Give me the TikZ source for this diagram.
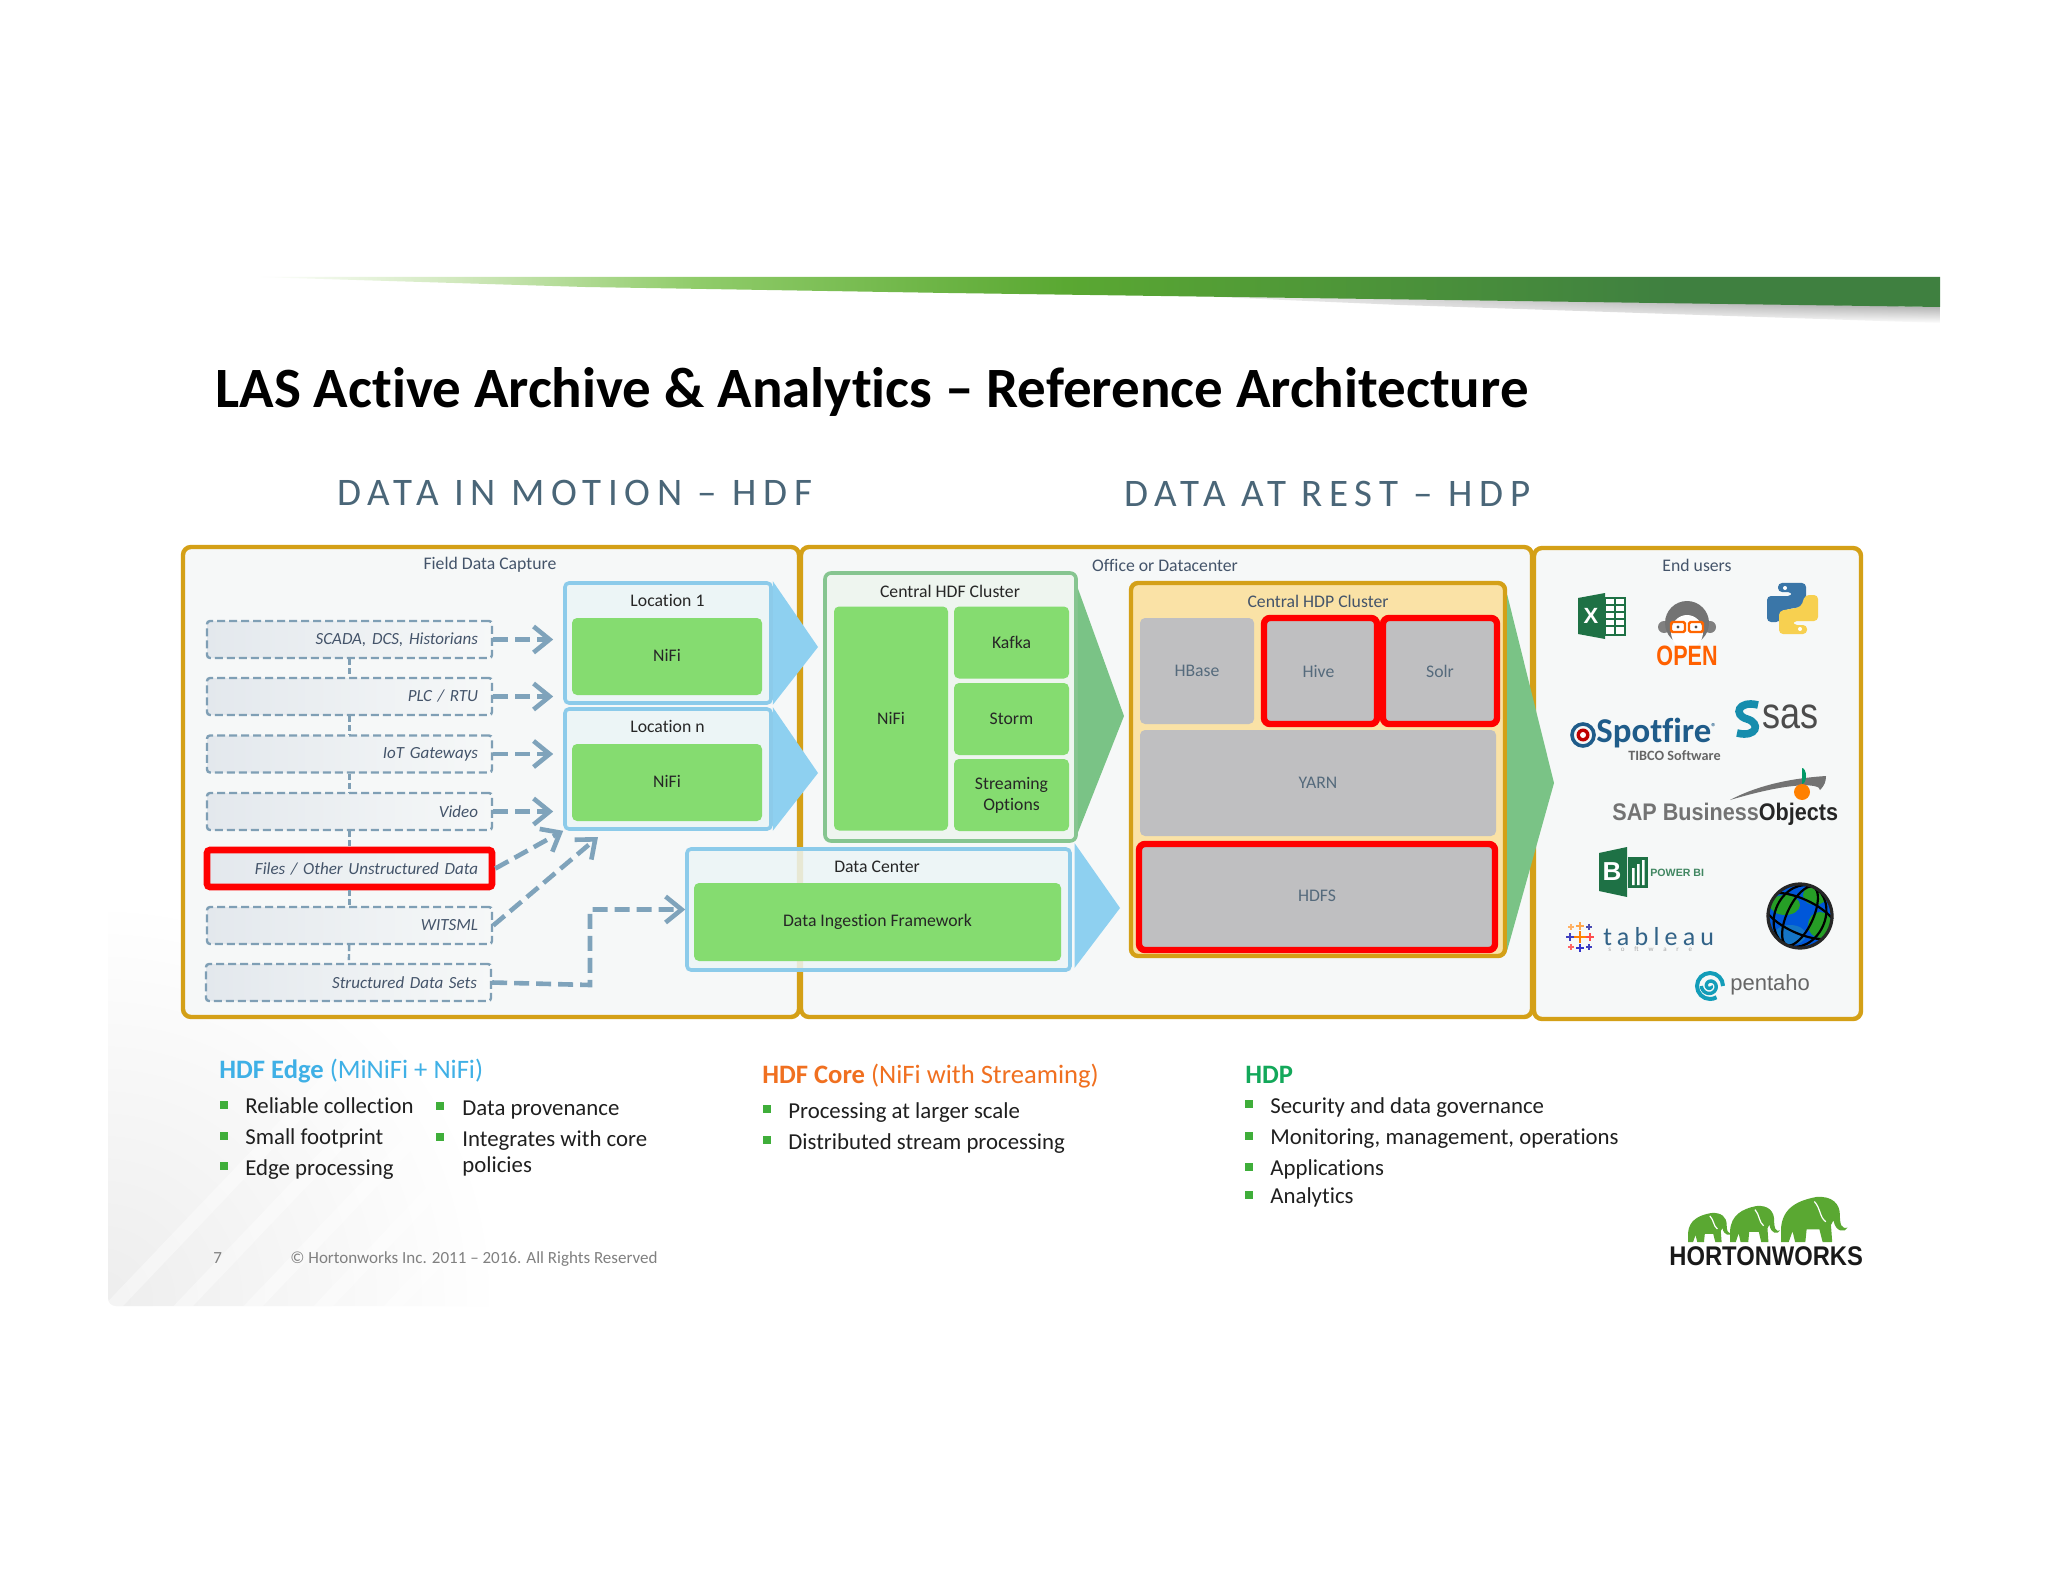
\documentclass[tikz,border=0pt]{standalone}
\usepackage{fontspec}
\setmainfont[Ligatures={TeX,NoCommon}]{Carlito}
\newfontfamily\spacedfont[LetterSpace=17]{Carlito}
\newfontfamily\logofont{Liberation Sans}
\newfontfamily\tabfont[LetterSpace=20]{Carlito}
\newfontfamily\tabsubfont[LetterSpace=140]{Carlito}
\usetikzlibrary{arrows.meta, fadings}

\definecolor{gold}{HTML}{D4A017}
\definecolor{panel}{HTML}{F6F8F8}
\definecolor{slate}{HTML}{44546A}
\definecolor{head}{HTML}{4A6678}
\definecolor{blueline}{HTML}{8CCBEA}
\definecolor{bluefill}{HTML}{ECF5F6}
\definecolor{bluechev}{HTML}{8ED0F0}
\definecolor{nifi}{HTML}{85DC70}
\definecolor{hdfline}{HTML}{86C590}
\definecolor{hdffill}{HTML}{EEF5EF}
\definecolor{greenchev}{HTML}{7AC386}
\definecolor{hdpfill}{HTML}{FAE2A6}
\definecolor{svc}{HTML}{BFBFC1}
\definecolor{svctext}{HTML}{556A7C}
\definecolor{dashc}{HTML}{7F9FB5}
\definecolor{srcleft}{HTML}{E3E8ED}
\definecolor{linkc}{HTML}{7FA3BB}
\definecolor{bulgreen}{HTML}{3FAE3A}
\definecolor{edgeblue}{HTML}{3FB0E6}
\definecolor{coreorange}{HTML}{F07020}
\definecolor{hdpgreen}{HTML}{13A85A}
\definecolor{xlgreen}{HTML}{1E7145}
\definecolor{pygold}{HTML}{F7D050}
\definecolor{pyblue}{HTML}{3A76A8}
\definecolor{spotblue}{HTML}{1F5C8A}
\definecolor{elephant}{HTML}{5AA832}
\definecolor{barzero}{HTML}{D0E8BC}
\definecolor{barone}{HTML}{90CC6A}
\definecolor{bartwo}{HTML}{5AA832}
\definecolor{barthree}{HTML}{3F8040}

\pgfdeclarehorizontalshading{barfill}{100bp}{
  color(0bp)=(white); color(25bp)=(white);
  color(31bp)=(barzero);
  color(38bp)=(barone);
  color(49bp)=(bartwo);
  color(67bp)=(barthree);
  color(100bp)=(barthree)}

\newcommand\fsz[1]{\fontsize{#1}{#1}\selectfont}
% name, bullet x, bullet y, text x, baseline y, text
\newcommand\bitem[6]{
  \node [bul] (#1b) at (#2,#3) {};
  \node [itm] (#1) at (#4,#5) {#6};
}
% x, y, width, height of one elephant, y down
\newcommand\elephantshape[4]{
  \begin{scope}[shift={(#1,#2)}, xscale=#3/100, yscale=#4/100]
    \fill [elephant] (0,70) .. controls (2,25) and (25,8) .. (55,0)
      .. controls (80,-3) and (92,15) .. (92,40)
      .. controls (92,60) and (94,72) .. (104,68)
      .. controls (100,80) and (85,78) .. (82,52)
      -- (78,62) -- (80,100) -- (65,100) -- (60,72) -- (40,72)
      -- (38,100) -- (22,100) -- (18,76) -- (12,100) -- (0,100) -- cycle;
    \draw [white, line width=0.6pt] (52,10) .. controls (62,25) and (60,45) .. (70,55);
  \end{scope}
}

\begin{document}
\begin{tikzpicture}[ x=0.5pt, y=-0.5pt
                   , outer/.style={draw=gold, line width=2.2pt, rounded corners=4pt, fill=panel}
                   , bl/.style={draw=blueline, line width=1.8pt, rounded corners=2pt, fill=bluefill}
                   , inner/.style={fill=nifi, rounded corners=2.5pt, inner sep=0pt, text=black!85, font=\fsz{8.85}, align=center}
                   , svcbox/.style={fill=svc, rounded corners=2.5pt, inner sep=0pt, text=svctext, font=\fsz{8.85}}
                   , redbox/.style={draw=red, line width=3.2pt, fill=svc, rounded corners=3pt, inner sep=0pt, text=svctext, font=\fsz{8.85}}
                   , lab/.style={inner sep=0pt, text=slate, font=\fsz{8.85}}
                   , ttl/.style={inner sep=0pt, text=black!85, font=\fsz{8.85}}
                   , src/.style={draw=dashc, line width=1.2pt, dash pattern=on 4pt off 2pt, rounded corners=1.5pt,
                                 left color=srcleft, right color=panel, minimum height=18.5pt,
                                 text width=128.5pt, inner xsep=7pt, inner ysep=0pt, align=right, text=slate,
                                 font=\itshape\fsz{8.5}}
                   , srcred/.style={src, draw=red, solid, line width=3.3pt}
                   , dot/.style={draw=dashc, line width=1.2pt, dash pattern=on 3pt off 1.5pt}
                   , link/.style={draw=linkc, line width=2.3pt, dash pattern=on 7.5pt off 3.5pt,
                                  -{Straight Barb[length=8pt,width=13pt,line width=2.3pt]}}
                   , bul/.style={fill=bulgreen, inner sep=0pt, minimum size=3.6pt}
                   , itm/.style={inner sep=0pt, anchor=base west, text=black!88, font=\fsz{11.4}}
                   , hd/.style={inner sep=0pt, anchor=base west, font=\fsz{13.3}}
                   , foot/.style={inner sep=0pt, anchor=base west, text=black!50, font=\fsz{8.5}}
                   , logo/.style={inner sep=0pt, anchor=base west}
                   ]
  \useasboundingbox (0,0) rectangle (2048,1582);
  \fill [white] (0,0) rectangle (2048,1582);

  % --- slide background -------------------------------------------------------
  \begin{scope}
    \clip [rounded corners=4pt] (108,900) rectangle (900,1306);
    \shade [inner color=black!7, outer color=white] (-300,900) rectangle (500,1700);
    \foreach \d in {0,70,...,420}
      \draw [white, line width=7pt, opacity=0.4] (100+\d,1320) -- (500+\d,900);
  \end{scope}

  % --- top bar ----------------------------------------------------------------
  \shade [left color=white, right color=black!55, path fading=south]
    (1100,292) -- (1940,307) -- (1940,323) -- (1400,305) -- cycle;
  \shade [shading=barfill] (258,277) -- (1940,277) -- (1940,307) -- (948,293) -- (585,287) -- cycle;

  % --- headings ---------------------------------------------------------------
  \node [inner sep=0pt, anchor=base west, font=\bfseries\fsz{28.5}] (title) at (215,408)
    {LAS Active Archive \& Analytics – Reference Architecture};
  \node [inner sep=0pt, anchor=base west, text=head, font=\spacedfont\fsz{19.5}] (motion) at (337,506)
    {DATA IN MOTION – HDF};
  \node [inner sep=0pt, anchor=base west, text=head, font=\spacedfont\fsz{19.5}] (rest) at (1124,507)
    {DATA AT REST – HDP};

  % --- outer panels -----------------------------------------------------------
  \draw [outer] (183,547) rectangle (799,1017);
  \draw [outer] (801,547) rectangle (1532,1017);
  \draw [outer] (1534,548) rectangle (1861,1019);
  \node [lab] (field) at (490,565) {Field Data Capture};
  \node [lab] (office) at (1165,565) {Office or Datacenter};
  \node [lab] (users) at (1697,565) {End users};

  % --- sources ----------------------------------------------------------------
  \node [src] (s1) at (349.5,639.5) {SCADA, DCS, Historians};
  \node [src] (s2) at (349.5,696.5) {PLC / RTU};
  \node [src] (s3) at (349.5,754) {IoT Gateways};
  \node [src] (s4) at (349.5,811.5) {Video};
  \node [srcred] (s5) at (349.5,868.5) {Files / Other Unstructured Data};
  \node [src] (s6) at (349.5,925.5) {WITSML};
  \node [src] (s7) at (348.5,982.5) {Structured Data Sets};
  \draw [dot] (s1) -- (s2);
  \draw [dot] (s2) -- (s3);
  \draw [dot] (s3) -- (s4);
  \draw [dot] (s4) -- (s5);
  \draw [dot] (s5) -- (s6);
  \draw [dot] (s6) -- (s7);

  % --- locations --------------------------------------------------------------
  \node [bl, minimum width=103pt, minimum height=60pt, inner sep=0pt] (loc1) at (668,643) {};
  \node [bl, minimum width=103pt, minimum height=60pt, inner sep=0pt] (locn) at (668,769) {};
  \fill [bluechev] (loc1.north east) -- (818,647) -- (loc1.south east) -- cycle;
  \fill [bluechev] (locn.north east) -- (818,773) -- (locn.south east) -- cycle;
  \node [ttl] (loc1t) at (667.5,600.5) {Location 1};
  \node [ttl] (locnt) at (667.5,726.5) {Location n};
  \node [inner, minimum width=95pt, minimum height=38.5pt] (nifi1) at (667,656.5) {\raisebox{0.8pt}{NiFi}};
  \node [inner, minimum width=95pt, minimum height=38.5pt] (nifi2) at (667,782.5) {\raisebox{0.8pt}{NiFi}};

  % --- data center ------------------------------------------------------------
  \fill [bluechev] (1074.5,843) -- (1120,908) -- (1074.5,968) -- cycle;
  \node [bl, fill opacity=0.85, minimum width=191.5pt, minimum height=60.5pt, inner sep=0pt] (dc) at (878.5,909.5) {};
  \node [ttl] (dct) at (877,867) {Data Center};
  \node [inner, minimum width=183.5pt, minimum height=39pt] (dif) at (877.5,922) {Data Ingestion Framework};

  % --- central HDF cluster ----------------------------------------------------
  \node [draw=hdfline, line width=1.8pt, rounded corners=3pt, fill=hdffill, minimum width=125.5pt, minimum height=134pt, inner sep=0pt] (hdf) at (950.5,707) {};
  \fill [greenchev] ([yshift=-8.5pt]hdf.north east) -- (1124,716) -- ([yshift=5pt]hdf.south east) -- cycle;
  \node [ttl] (hdft) at (950,591.5) {Central HDF Cluster};
  \node [inner, minimum width=57pt, minimum height=112pt] (hnifi) at (891,718.5) {NiFi};
  \node [inner, minimum width=57.5pt, minimum height=36pt] (kafka) at (1011.5,642.5) {Kafka};
  \node [inner, minimum width=57.5pt, minimum height=36pt] (storm) at (1011.5,719) {Storm};
  \node [inner, minimum width=57.5pt, minimum height=36pt, font=\fontsize{8.85}{10.5}\selectfont] (stream) at (1011.5,795) {Streaming\\Options};

  % --- central HDP cluster ----------------------------------------------------
  \node [draw=gold, line width=2.2pt, rounded corners=3.5pt, fill=hdpfill, minimum width=187pt, minimum height=186.5pt, inner sep=0pt] (hdp) at (1318,769.5) {};
  \fill [greenchev] ([yshift=-7pt]hdp.north east) -- (1554,783) -- ([yshift=4pt]hdp.south east) -- cycle;
  \node [lab] (hdpt) at (1318,601.5) {Central HDP Cluster};
  \node [svcbox, minimum width=57pt, minimum height=53pt] (hbase) at (1197,671) {HBase};
  \node [redbox, minimum width=56.5pt, minimum height=53pt] (hive) at (1320.5,671) {\kern-2pt Hive};
  \node [redbox, minimum width=57pt, minimum height=53pt] (solr) at (1440,671) {Solr};
  \node [svcbox, minimum width=178pt, minimum height=53pt] (yarn) at (1318,783) {YARN};
  \node [redbox, minimum width=178pt, minimum height=53pt] (hdfs) at (1317,897) {\raisebox{1.5pt}{HDFS}};

  % --- arrows -----------------------------------------------------------------
  \coordinate (wend) at (598,837);
  \coordinate (elbow) at (590,985);
  \draw [link, shorten >=5pt] (s1.east) -- (s1.east -| loc1.west);
  \draw [link, shorten >=5pt] (s2.east) -- (s2.east -| loc1.west);
  \draw [link, shorten >=5pt] (s3.east) -- (s3.east -| locn.west);
  \draw [link, shorten >=5pt] (s4.east) -- (s4.east -| locn.west);
  \draw [link] (s5.east) -- (locn.south west);
  \draw [link] (s6.east) -- (wend);
  \draw [link] (s7.east) -- (elbow) |- (dc.west);

  % --- bottom text ------------------------------------------------------------
  \node [hd] (edge) at (219,1078) {\textcolor{edgeblue}{\textbf{HDF Edge} (MiNiFi + NiFi)}};
  \bitem{e1}{224}{1105}{245}{1113}{Reliable collection}
  \bitem{e2}{224}{1136}{245}{1144}{Small footprint}
  \bitem{e3}{224}{1166}{245}{1175}{Edge processing}
  \bitem{e4}{440}{1106}{462}{1115}{Data provenance}
  \bitem{e5}{440}{1137}{462}{1146}{Integrates with core}
  \node [itm] (e6) at (462,1172) {policies};

  \node [hd] (core) at (762,1083) {\textcolor{coreorange}{\textbf{HDF Core} (NiFi with Streaming)}};
  \bitem{c1}{767}{1109}{788}{1118}{Processing at larger scale}
  \bitem{c2}{767}{1140}{788}{1149}{Distributed stream processing}

  \node [hd] (hdpl) at (1245,1083) {\textcolor{hdpgreen}{\textbf{HDP}}};
  \bitem{p1}{1249}{1104}{1270}{1113}{Security and data governance}
  \bitem{p2}{1249}{1136}{1270}{1144}{Monitoring, management, operations}
  \bitem{p3}{1249}{1167}{1270}{1175}{Applications}
  \bitem{p4}{1249}{1195}{1270}{1203}{Analytics}

  \node [foot] (pageno) at (213,1263) {7};
  \node [foot] (copy) at (290,1263) {© Hortonworks Inc. 2011 – 2016. All Rights Reserved};

  % --- hortonworks logo -------------------------------------------------------
  \elephantshape{1688}{1213}{42}{29}
  \elephantshape{1730}{1206}{48}{36}
  \elephantshape{1781}{1197}{64}{45}
  \node [inner sep=0pt, anchor=base west, transform shape, xscale=0.88, text=black!90, font=\logofont\bfseries\fsz{13.5}] (hw) at (1669,1265) {HORTONWORKS};

  % --- end user logos ---------------------------------------------------------
  % excel
  \fill [xlgreen] (1578,598) -- (1605,593) -- (1605,639) -- (1578,634) -- cycle;
  \draw [xlgreen, line width=0.8pt, fill=white] (1605,598) rectangle (1625,635);
  \foreach \y in {605,612,619,626}
    \draw [xlgreen, line width=1pt] (1605,\y) -- (1625,\y);
  \draw [xlgreen, line width=1pt] (1615,598) -- (1615,635);
  \node [inner sep=0pt, text=white, font=\logofont\bfseries\fsz{11}] (xl) at (1591,616) {X};
  % open monkey
  \fill [black!50] (1664,627) circle (6) (1710,627) circle (6);
  \fill [black!55] (1687,623) circle (22);
  \fill [white] (1687,632) ellipse (16 and 17);
  \draw [orange!80!red, line width=1.2pt, rounded corners=0.8pt] (1671,622) rectangle (1685,632) (1689,622) rectangle (1703,632);
  \fill [black!70] (1678,627) circle (1.6) (1696,627) circle (1.6);
  \node [inner sep=0pt, transform shape, xscale=0.77, text=orange!75!red, font=\logofont\bfseries\fsz{14}] (open) at (1687,656) {OPEN};
  % python
  \begin{scope}
    \fill [pyblue, rounded corners=2pt] (1778,583) -- (1806,583) -- (1806,606) -- (1784,610)
      -- (1780,622) -- (1767,622) -- (1767,596) -- (1792,596) -- (1792,592) -- (1778,592) -- cycle;
    \fill [white] (1785,588) circle (2);
  \end{scope}
  \begin{scope}[rotate around={180:(1792.5,608.5)}]
    \fill [pygold, rounded corners=2pt] (1778,583) -- (1806,583) -- (1806,606) -- (1784,610)
      -- (1780,622) -- (1767,622) -- (1767,596) -- (1792,596) -- (1792,592) -- (1778,592) -- cycle;
    \fill [white] (1785,588) circle (2);
  \end{scope}
  % spotfire
  \draw [spotblue, line width=1.8pt] (1583,735) circle (11);
  \fill [red!75!black] (1583,735) circle (6.5);
  \fill [white] (1583,735) circle (3);
  \node [logo, text=spotblue, font=\bfseries\fsz{17.4}] (spot) at (1596,742) {Spotfire{\fsz{5}\raisebox{6pt}{®}}};
  \node [logo, text=black!60, font=\bfseries\fsz{7.1}] (tibco) at (1628,760) {TIBCO Software};
  % sas
  \draw [spotblue!70!cyan, line width=3.8pt] (1758,705) .. controls (1738,700) and (1733,715) .. (1747,719)
    .. controls (1761,723) and (1757,738) .. (1737,733);
  \node [logo, transform shape, xscale=0.82, text=black!70, font=\logofont\fsz{22}] (sas) at (1762,728) {sas};
  % business objects
  \fill [black!55] (1730,800) .. controls (1760,784) and (1795,778) .. (1826,776)
    .. controls (1826,782) and (1824,786) .. (1820,790)
    .. controls (1820,783) and (1790,782) .. (1730,800) -- cycle;
  \fill [orange] (1802,792) circle (8);
  \fill [green!60!blue] (1802,784) arc (90:-90:4 and 8) -- cycle;
  \node [logo, transform shape, xscale=0.9, font=\logofont\bfseries\fsz{12}] (bo) at (1612,820) {\textcolor{black!55}{SAP Business}\textcolor{black!85}{Objects}};
  % power bi
  \fill [xlgreen] (1599,853) -- (1627,847) -- (1627,897) -- (1599,891) -- cycle;
  \node [inner sep=0pt, text=white, font=\logofont\bfseries\fsz{13}] (pb) at (1612,872) {B};
  \fill [xlgreen] (1628,857) rectangle (1648,888);
  \fill [white] (1632,868) rectangle (1634.5,885) (1637,864) rectangle (1639.5,885) (1642,860) rectangle (1644.5,885);
  \node [inner sep=0pt, text=xlgreen!85, font=\logofont\bfseries\fsz{5.3}, anchor=west] (pbi) at (1650,873) {POWER BI};
  % globe
  \begin{scope}
    \clip (1800,916) circle (32);
    \fill [blue!60!cyan!85!black] (1800,916) circle (32);
    \fill [green!55!black!85] (1785,905) ellipse (15 and 10) (1815,895) ellipse (12 and 10) (1820,925) ellipse (12 and 13);
    \fill [cyan!55!blue] (1790,935) ellipse (16 and 10);
  \end{scope}
  \begin{scope}[rotate around={-25:(1800,916)}]
    \draw [black, line width=1.1pt] (1800,916) ellipse (13 and 32) (1800,916) ellipse (25 and 32);
    \draw [black, line width=1.1pt] (1769,905) .. controls (1785,897) and (1815,897) .. (1831,905);
    \draw [black, line width=1.1pt] (1769,927) .. controls (1785,935) and (1815,935) .. (1831,927);
  \end{scope}
  \draw [black!85, line width=1.6pt] (1800,916) circle (32);
  % tableau
  \foreach \x/\y/\r/\c in {1580/937/6/orange, 1570/937/4/blue!50!gray, 1590/937/4/red!70, 1580/926/4/orange!70,
                           1580/948/4/blue!60!gray, 1571/927/3/orange!60, 1589/927/3/blue!40!gray,
                           1571/947/3/red!60, 1589/947/3/blue!50!gray}
    \draw [\c, line width=1pt] (\x-\r,\y) -- (\x+\r,\y) (\x,\y-\r) -- (\x,\y+\r);
  \node [logo, text=spotblue!80!gray, font=\tabfont\fsz{13}] (tab) at (1603,945) {tableau};
  \node [logo, text=black!35, font=\tabsubfont\fsz{3.5}] (tabs) at (1608,951) {software};
  % pentaho
  \draw [spotblue!60!cyan, line width=2pt] (1723,986) arc (0:-300:13);
  \draw [spotblue!60!cyan, line width=1.7pt, domain=0:540, samples=40, smooth]
    plot ({1710+(1+\x/70)*cos(\x)}, {986+(1+\x/70)*sin(\x)});
  \node [logo, text=black!60, font=\logofont\fsz{11}] (pent) at (1730,990) {pentaho};
\end{tikzpicture}
\end{document}
